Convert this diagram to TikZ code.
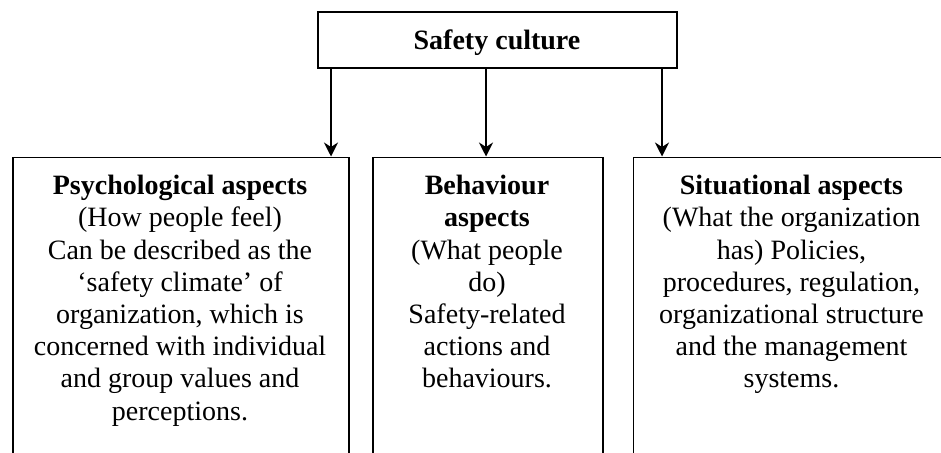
\documentclass[tikz,border=0pt]{standalone}
\usepackage{fontspec}
\setmainfont{Liberation Serif}
\usetikzlibrary{arrows.meta,positioning}

\tikzset{
  frame/.style={draw=black, line width=1.8pt, inner sep=0pt},
  bodytext/.style={align=center, inner sep=0pt, anchor=north,
    font=\fontsize{28}{32.2}\selectfont},
  arr/.style={draw=black, line width=1.8pt,
    -{Stealth[length=14pt, width=14pt, inset=4.5pt]}}
}

\begin{document}
\begin{tikzpicture}[x=1pt, y=-1pt]
  \useasboundingbox (0,0) rectangle (941,452);
  \clip (0,0) rectangle (941,452);

  % top box
  \node[frame, minimum width=359pt, minimum height=56pt] (culture) at (497.5,40) {};
  \node[bodytext, anchor=base] (culturetext) at (497,49) {\textbf{Safety culture}};

  % three aspect boxes, running past the lower edge
  \node[frame, anchor=north west, minimum width=336pt, minimum height=340pt] (psy) at (12,156.5) {};
  \node[frame, anchor=north west, minimum width=230pt, minimum height=340pt] (beh) at (372,156.5) {};
  \node[frame, anchor=north west, minimum width=320pt, minimum height=340pt] (sit) at (632.5,156.5) {};

  \node[bodytext] (psytext) at (180,175) {\textbf{Psychological aspects}\\(How people feel)\\Can be described as the\\‘safety climate’ of\\organization, which is\\concerned with individual\\and group values and\\perceptions.};
  \node[bodytext] (behtext) at (487,175) {\textbf{Behaviour}\\\textbf{aspects}\\(What people\\do)\\Safety-related\\actions and\\behaviours.};
  \node[bodytext] (sittext) at (791.5,175) {\textbf{Situational aspects}\\(What the organization\\has) Policies,\\procedures, regulation,\\organizational structure\\and the management\\systems.};

  % connectors
  \coordinate (c1) at (331,0);
  \coordinate (c2) at (486,0);
  \coordinate (c3) at (662,0);
  \draw[arr] (culture.south -| c1) -- (psy.north -| c1);
  \draw[arr] (culture.south -| c2) -- (beh.north -| c2);
  \draw[arr] (culture.south -| c3) -- (sit.north -| c3);
\end{tikzpicture}
\end{document}
